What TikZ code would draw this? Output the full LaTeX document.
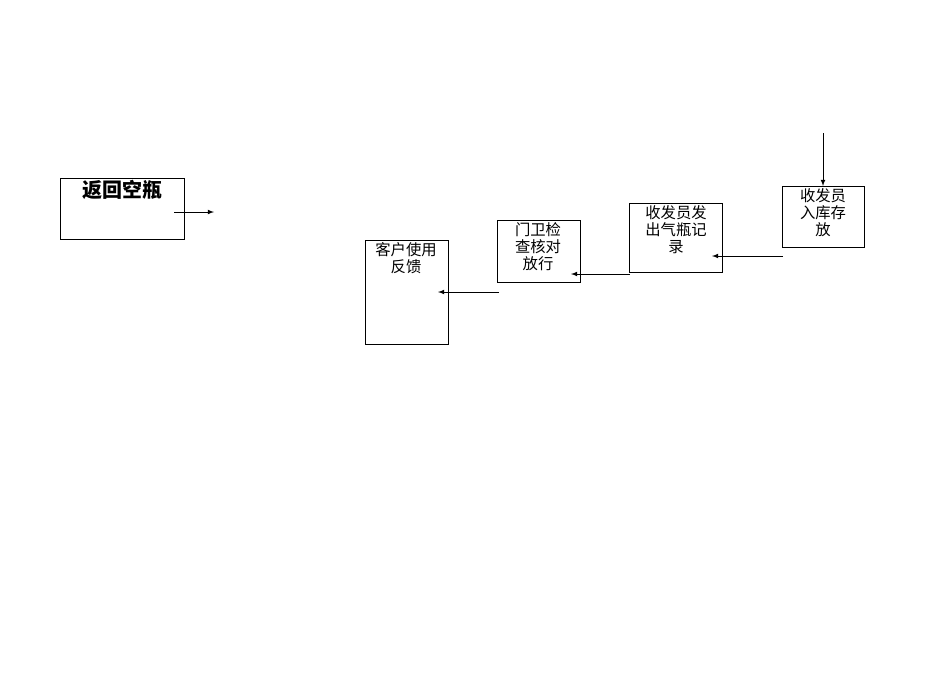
\documentclass[tikz,border=0pt]{standalone}
\usepackage{fontspec}
\newfontfamily\cjk{Noto Sans CJK SC}
\begin{document}
\begin{tikzpicture}[x=0.75pt,y=-0.75pt,
 bx/.style={draw,line width=0.5pt},
 lbl/.style={anchor=north,align=center,font=\cjk\fontsize{11.5}{13}\selectfont,inner sep=0pt},
 ar/.style={-latex,line width=0.6pt}]
\useasboundingbox (0,0) rectangle (950,672);
\draw[bx] (60,178) rectangle (184,239);
\node[anchor=north,inner sep=0pt,font=\cjk\bfseries\fontsize{15}{17}\selectfont] (t1) at (122,180) {返回空瓶};
\coordinate (a1) at (174,212); \coordinate (b1) at (214,212);
\draw[ar] (a1) -- (b1);
\draw[bx] (365,240) rectangle (448,344);
\node[lbl] (t2) at (406,242) {客户使用\\反馈};
\draw[bx] (497,220) rectangle (580,282);
\node[lbl] (t3) at (538,222) {门卫检\\查核对\\放行};
\draw[bx] (629,203) rectangle (722,272);
\node[lbl] (t4) at (676,205) {收发员发\\出气瓶记\\录};
\draw[bx] (782,186) rectangle (864,247);
\node[lbl] (t5) at (823,188) {收发员\\入库存\\放};
\coordinate (c0) at (823,133); \coordinate (c1) at (823,186);
\draw[ar] (c0) -- (c1);
\coordinate (d0) at (783,256); \coordinate (d1) at (712,256);
\draw[ar] (d0) -- (d1);
\coordinate (e0) at (630,274); \coordinate (e1) at (571,274);
\draw[ar] (e0) -- (e1);
\coordinate (f0) at (499,292); \coordinate (f1) at (438,292);
\draw[ar] (f0) -- (f1);
\end{tikzpicture}
\end{document}
